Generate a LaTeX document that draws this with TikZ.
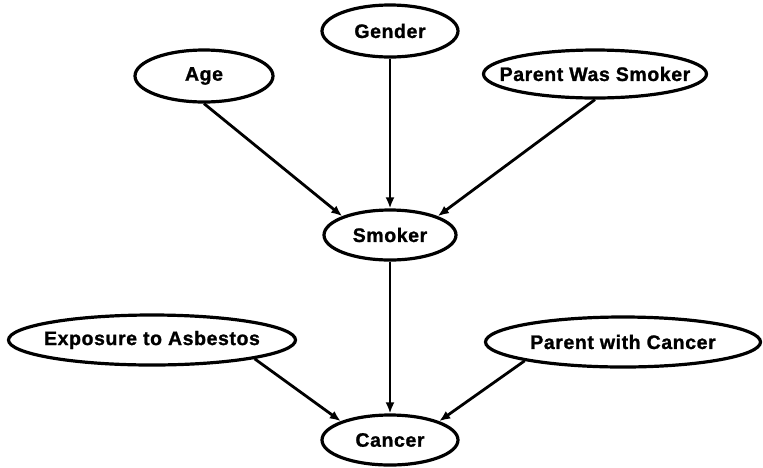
\documentclass[tikz,border=0pt]{standalone}
\usepackage{fontspec}
\setmainfont{Liberation Sans}
\newfontfamily\labfont{Liberation Sans}[LetterSpace=3, BoldFeatures={FakeBold=1.2}]
\usetikzlibrary{shapes.geometric,arrows.meta}

\begin{document}
\begin{tikzpicture}[x=1pt,y=-1pt,
  var/.style={ellipse, draw, line width=3.2pt, inner sep=0pt,
    label={[font=\labfont\bfseries\fontsize{19.5}{22}\selectfont]center:#1}},
  edge/.style={line width=2.8pt, -{Latex[length=11pt,width=9pt]}}]
  \useasboundingbox (0,0) rectangle (763,467);

  % variables
  \node[var=Gender, minimum width=136pt, minimum height=52pt] (gender) at (390,31) {};
  \node[var=Age, minimum width=138pt, minimum height=52pt] (age) at (204,76) {};
  \node[var={Parent Was Smoker}, minimum width=223pt, minimum height=48pt] (pws) at (595,74) {};
  \node[var=Smoker, minimum width=132pt, minimum height=50pt] (smoker) at (390,235) {};
  \node[var={Exposure to Asbestos}, minimum width=287pt, minimum height=50pt] (asb) at (152,340) {};
  \node[var={Parent with Cancer}, minimum width=275pt, minimum height=50pt] (pwc) at (623,342) {};
  \node[var=Cancer, minimum width=136pt, minimum height=50pt] (cancer) at (390,440) {};

  % dependencies
  \draw[edge] (age.south) -- (smoker.north west);
  \draw[edge] (gender.south) -- (smoker.north);
  \draw[edge] (pws.south) -- (smoker.north east);
  \draw[edge] (smoker.south) -- (cancer.north);
  \draw[edge] (asb.south east) -- (cancer.north west);
  \draw[edge] (pwc.south west) -- (cancer.north east);
\end{tikzpicture}
\end{document}
